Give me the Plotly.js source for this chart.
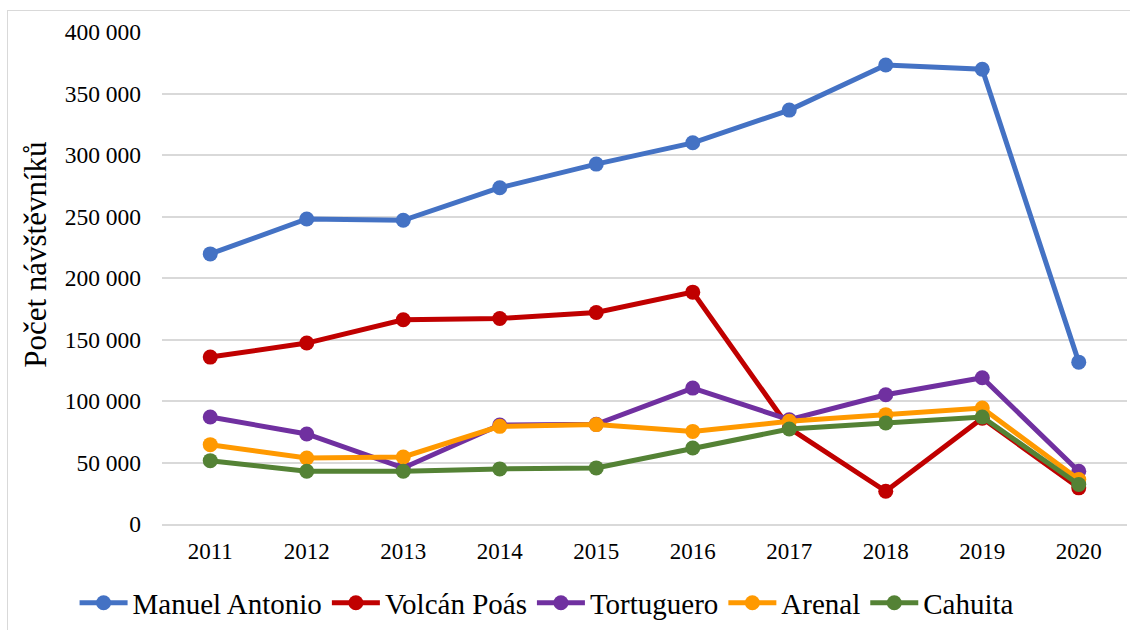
<!DOCTYPE html>
<html>
<head>
<meta charset="utf-8">
<script src="https://cdn.plot.ly/plotly-3.0.1.min.js"></script>
<style>
html,body{margin:0;padding:0;background:#fff;overflow:hidden;}
#chart{position:absolute;left:0;top:0;width:1130px;height:630px;}
#frame{position:absolute;left:7px;top:10px;width:1200px;height:700px;border:1px solid #d9d9d9;pointer-events:none;}
</style>
</head>
<body>
<div id="frame"></div>
<div id="chart"></div>
<script>
const years = ["2011","2012","2013","2014","2015","2016","2017","2018","2019","2020"];
const seriesNames = ["Manuel Antonio","Volcán Poás","Tortuguero","Arenal","Cahuita"];
const manuelAntonio = [219600, 248000, 246900, 273400, 292600, 309900, 336500, 373200, 369700, 131600];
const volcanPoas   = [135700, 147100, 166000, 167100, 171900, 188500, 78000, 26600, 86000, 29400];
const tortuguero   = [87000, 73200, 45600, 80500, 81000, 110500, 84800, 105100, 118900, 42900];
const arenal       = [64500, 53700, 54500, 79400, 80800, 75300, 83500, 88900, 94300, 36100];
const cahuita      = [51500, 42900, 42900, 44800, 45600, 61800, 77200, 82100, 87000, 32100];
const yTicks = [0, 50000, 100000, 150000, 200000, 250000, 300000, 350000, 400000];
const yTitle = "Počet návštěvníků";

const colors = ["#4472C4", "#C00000", "#7030A0", "#FF9900", "#548235"];
const values = [manuelAntonio, volcanPoas, tortuguero, arenal, cahuita];

const traces = values.map((v, i) => ({
  type: "scatter",
  mode: "lines+markers",
  name: seriesNames[i],
  x: years,
  y: v,
  line: {color: colors[i], width: 5},
  marker: {color: colors[i], size: 15},
  hoverinfo: "x+y+name"
}));

const font = "Liberation Serif";

const layout = {
  width: 1130,
  height: 630,
  margin: {l: 162, r: 3, t: 32, b: 106, pad: 0},
  paper_bgcolor: "rgba(0,0,0,0)",
  plot_bgcolor: "rgba(0,0,0,0)",
  separators: ", ",
  font: {family: font, color: "#000"},
  showlegend: true,
  legend: {
    orientation: "h",
    xref: "container", yref: "container",
    x: 0.066, xanchor: "left",
    y: 0.043, yanchor: "middle",
    font: {family: font, size: 29, color: "#000"},
    traceorder: "normal",
    itemwidth: 48
  },
  annotations: [{
    text: yTitle,
    xref: "paper", yref: "paper",
    x: -0.1306, y: 0.547,
    xanchor: "center", yanchor: "middle",
    textangle: -90,
    showarrow: false,
    font: {family: font, size: 31, color: "#000"}
  }],
  xaxis: {
    type: "category",
    range: [-0.5, 9.5],
    showgrid: false,
    showline: true,
    linecolor: "#d9d9d9",
    linewidth: 2,
    ticks: "",
    ticklabelstandoff: 5,
    tickfont: {family: font, size: 23, color: "#000"},
    fixedrange: true,
    automargin: false
  },
  yaxis: {
    range: [0, 400000],
    tickvals: yTicks,
    tickformat: ",d",
    showgrid: true,
    gridcolor: "#d9d9d9",
    gridwidth: 2,
    zeroline: false,
    showline: false,
    ticks: "",
    ticklabelstandoff: 20,
    tickfont: {family: font, size: 23.5, color: "#000"},
    fixedrange: true,
    automargin: false
  }
};

Plotly.newPlot("chart", traces, layout, {displayModeBar: false, staticPlot: true});
</script>
</body>
</html>
